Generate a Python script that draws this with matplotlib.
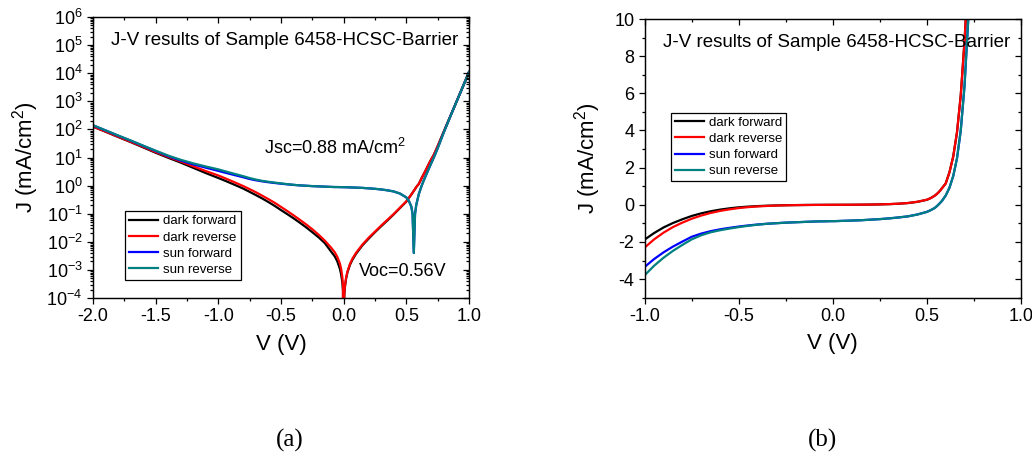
import numpy as np
import matplotlib
matplotlib.use("Agg")
from matplotlib import pyplot as plt
from matplotlib.ticker import MultipleLocator, LogLocator, NullFormatter

plt.rcParams['font.family'] = ['Liberation Sans', 'DejaVu Sans']
plt.rcParams['mathtext.default'] = 'regular'
plt.rcParams['axes.unicode_minus'] = False

# bias voltage (V)
volts = [-2.0, -1.9, -1.8, -1.7, -1.6, -1.5, -1.4, -1.3, -1.2, -1.1,
         -1.0, -0.95, -0.9, -0.85, -0.8, -0.75, -0.7, -0.65, -0.6, -0.55,
         -0.5, -0.45, -0.4, -0.35, -0.3, -0.25, -0.2, -0.15, -0.1, -0.07,
         -0.05, -0.03, -0.02, -0.01, -0.005, 0.0, 0.005, 0.01, 0.02, 0.03,
         0.05, 0.07, 0.1, 0.15, 0.2, 0.25, 0.3, 0.35, 0.4, 0.45,
         0.5, 0.52, 0.54, 0.55, 0.56, 0.57, 0.58, 0.6, 0.62, 0.64,
         0.66, 0.68, 0.7, 0.72, 0.75, 0.8, 0.85, 0.9, 0.95, 1.0]

# current density (mA/cm2)
dark_fwd = [-126, -83, -54, -35.5, -23, -14.8, -9.8, -6.6, -4.3, -2.8,
            -1.87, -1.52, -1.22, -0.98, -0.78, -0.60, -0.46, -0.35, -0.26, -0.19,
            -0.135, -0.097, -0.069, -0.048, -0.033, -0.022, -0.0145, -0.009, -0.0045, -0.003,
            -0.0020, -0.0011, -0.0007, -0.00035, -0.00018, 0.0, 0.00012, 0.00024, 0.0005, 0.0008,
            0.0015, 0.0023, 0.0038, 0.0075, 0.013, 0.022, 0.036, 0.058, 0.095, 0.16,
            0.27, 0.36, 0.48, 0.56, 0.65, 0.76, 0.89, 1.15, 1.75, 2.6,
            3.9, 5.9, 8.8, 12.5, 25, 85, 285, 955, 3200, 11000]
dark_rev = [-126, -84, -55, -36.5, -24, -15.6, -10.5, -7.2, -4.9, -3.3,
            -2.3, -1.86, -1.5, -1.2, -0.96, -0.75, -0.58, -0.44, -0.33, -0.245,
            -0.175, -0.125, -0.088, -0.061, -0.042, -0.028, -0.018, -0.011, -0.0062, -0.0042,
            -0.0029, -0.0017, -0.0011, -0.00055, -0.00028, 0.0, 0.00013, 0.00026, 0.00054, 0.00086,
            0.0016, 0.0025, 0.0041, 0.008, 0.014, 0.023, 0.038, 0.061, 0.098, 0.165,
            0.275, 0.36, 0.48, 0.56, 0.65, 0.76, 0.89, 1.15, 1.75, 2.6,
            3.9, 5.9, 8.8, 12.5, 25, 85, 285, 955, 3200, 11000]
sun_fwd = [-140, -92, -60, -40, -26, -17, -11.2, -7.8, -5.7, -4.35,
           -3.34, -2.92, -2.56, -2.25, -1.98, -1.72, -1.55, -1.42, -1.32, -1.24,
           -1.17, -1.11, -1.06, -1.02, -0.99, -0.96, -0.94, -0.92, -0.90, -0.89,
           -0.89, -0.885, -0.882, -0.881, -0.88, -0.88, -0.879, -0.878, -0.875, -0.872,
           -0.865, -0.858, -0.848, -0.83, -0.80, -0.77, -0.73, -0.68, -0.62, -0.52,
           -0.38, -0.29, -0.18, -0.10, -0.004, 0.10, 0.21, 0.50, 0.92, 1.55,
           2.5, 4.0, 6.4, 10.0, 21, 80, 280, 950, 3190, 10990]
sun_rev = [-141, -93, -61, -40.5, -26.5, -17.5, -11.7, -8.3, -6.2, -4.8,
           -3.79, -3.28, -2.85, -2.48, -2.16, -1.86, -1.64, -1.48, -1.37, -1.28,
           -1.20, -1.13, -1.07, -1.02, -0.99, -0.96, -0.94, -0.92, -0.90, -0.89,
           -0.89, -0.885, -0.882, -0.881, -0.88, -0.88, -0.879, -0.878, -0.875, -0.872,
           -0.865, -0.858, -0.848, -0.83, -0.80, -0.77, -0.73, -0.68, -0.62, -0.52,
           -0.38, -0.29, -0.18, -0.10, -0.004, 0.10, 0.21, 0.50, 0.92, 1.55,
           2.5, 4.0, 6.4, 10.0, 21, 80, 280, 950, 3190, 10990]

labels = ['dark forward', 'dark reverse', 'sun forward', 'sun reverse']
colors = ['black', '#ff0000', '#0000ff', '#008080']
series = [dark_fwd, dark_rev, sun_fwd, sun_rev]
title = 'J-V results of Sample 6458-HCSC-Barrier'

V = np.array(volts)

fig = plt.figure(figsize=(10.32, 4.55), dpi=100)
axL = fig.add_axes([0.0901, 0.345, 0.3643, 0.6176])
axR = fig.add_axes([0.6247, 0.3457, 0.3646, 0.6125])


def style_axes(ax, logy=False):
    ax.tick_params(which='both', direction='out', labelsize=13, width=0.9, pad=3)
    ax.tick_params(which='major', length=4.5)
    ax.tick_params(which='minor', length=2.5)
    for s in ax.spines.values():
        s.set_linewidth(0.9)
    # mirrored ticks on top and right, pointing inward
    top = ax.twiny()
    top.set_xlim(ax.get_xlim())
    top.xaxis.set_major_locator(MultipleLocator(0.5))
    top.xaxis.set_minor_locator(MultipleLocator(0.25))
    top.tick_params(which='both', direction='in', labeltop=False, width=0.9)
    top.tick_params(which='major', length=4.5)
    top.tick_params(which='minor', length=2.5)
    right = ax.twinx()
    if logy:
        right.set_yscale('log')
        right.yaxis.set_major_locator(LogLocator(base=10, numticks=20))
        right.yaxis.set_minor_locator(LogLocator(base=10, subs=np.arange(2, 10), numticks=20))
        right.yaxis.set_minor_formatter(NullFormatter())
    else:
        right.yaxis.set_major_locator(MultipleLocator(2))
        right.yaxis.set_minor_locator(MultipleLocator(1))
    right.set_ylim(ax.get_ylim())
    right.tick_params(which='both', direction='in', labelright=False, width=0.9)
    right.tick_params(which='major', length=4.5)
    right.tick_params(which='minor', length=2.5)


legend_kw = dict(borderaxespad=0, fontsize=9.5, handlelength=2.2, handletextpad=0.4,
                 borderpad=0.3, labelspacing=0.3, fancybox=False, edgecolor='black',
                 framealpha=1)

# (a) semi-log
axL.set_yscale('log', nonpositive='clip')
for J, c, lab in zip(series, colors, labels):
    axL.plot(V, np.abs(np.array(J)), color=c, lw=1.6, label=lab)
axL.set_xlim(-2.0, 1.0)
axL.set_ylim(1e-4, 1e6)
axL.xaxis.set_major_locator(MultipleLocator(0.5))
axL.xaxis.set_minor_locator(MultipleLocator(0.25))
axL.yaxis.set_major_locator(LogLocator(base=10, numticks=20))
axL.yaxis.set_minor_locator(LogLocator(base=10, subs=np.arange(2, 10), numticks=20))
axL.yaxis.set_minor_formatter(NullFormatter())
axL.set_xlabel('V (V)', fontsize=16, labelpad=6)
axL.set_ylabel('J (mA/cm$^{2}$)', fontsize=16, labelpad=4)
axL.text(0.51, 0.915, title, transform=axL.transAxes, ha='center', va='center', fontsize=13.5)
axL.text(0.644, 0.534, 'Jsc=0.88 mA/cm$^{2}$', transform=axL.transAxes, ha='center', va='center', fontsize=13)
axL.text(0.824, 0.093, 'Voc=0.56V', transform=axL.transAxes, ha='center', va='center', fontsize=13)
legL = axL.legend(loc='lower left', bbox_to_anchor=(0.085, 0.064), **legend_kw)
legL.get_frame().set_linewidth(0.9)
style_axes(axL, logy=True)

# (b) linear
for J, c, lab in zip(series, colors, labels):
    axR.plot(V, J, color=c, lw=1.6, label=lab)
axR.set_xlim(-1.0, 1.0)
axR.set_ylim(-5, 10)
axR.xaxis.set_major_locator(MultipleLocator(0.5))
axR.xaxis.set_minor_locator(MultipleLocator(0.25))
axR.set_yticks([-4, -2, 0, 2, 4, 6, 8, 10])
axR.yaxis.set_minor_locator(MultipleLocator(1))
axR.set_xlabel('V (V)', fontsize=16, labelpad=6)
axR.set_ylabel('J (mA/cm$^{2}$)', fontsize=16, labelpad=8)
axR.text(0.511, 0.915, title, transform=axR.transAxes, ha='center', va='center', fontsize=13.5)
legR = axR.legend(loc='upper left', bbox_to_anchor=(0.069, 0.664), **legend_kw)
legR.get_frame().set_linewidth(0.9)
style_axes(axR, logy=False)

fig.text(0.281, 0.033, '(a)', ha='center', va='center', fontsize=18, family='Liberation Serif')
fig.text(0.797, 0.033, '(b)', ha='center', va='center', fontsize=18, family='Liberation Serif')

fig.savefig('out.png', dpi=100)
